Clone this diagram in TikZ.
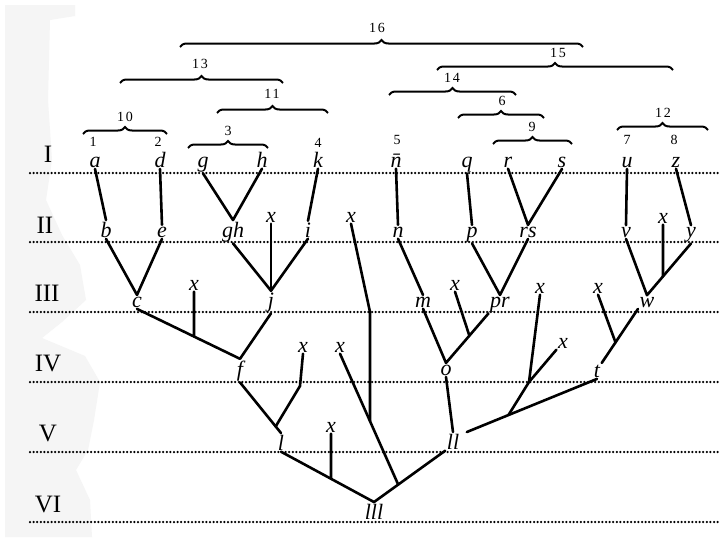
\documentclass[tikz,border=0pt]{standalone}
\usepackage{fontspec}
\setmainfont{Liberation Serif}
\newfontfamily\numfont[LetterSpace=14]{Liberation Serif}
\usetikzlibrary{decorations.pathreplacing,calc}
\begin{document}
\begin{tikzpicture}[x=1pt,y=-1pt,
  lab/.style={font=\fontsize{22}{22}\selectfont\itshape, inner sep=1.5pt, anchor=base},
  rom/.style={font=\fontsize{25}{25}\selectfont, inner sep=0pt, anchor=base},
  numl/.style={font=\fontsize{14}{14}\selectfont\numfont, inner sep=0pt, anchor=base},
  lnk/.style={line width=2.6pt, line cap=round, line join=round},
  brc/.style={decorate, decoration={brace, amplitude=7pt}, line width=2pt},
  dotline/.style={line width=2.5pt, dash pattern=on 0pt off 3.6pt, line cap=round}]
\useasboundingbox (0,0) rectangle (721,538);
\fill[white] (0,0) rectangle (721,538);
% scan shading at the left edge
\fill[gray!8] (5,5) -- (75,5) -- (75,16) -- (50,20) -- (48,100) -- (52,160) -- (46,200)
  -- (62,235) -- (80,265) -- (86,300) -- (62,322) -- (42,338) -- (85,356) -- (100,382)
  -- (94,420) -- (88,450) -- (76,470) -- (90,500) -- (92,537) -- (5,537) -- cycle;

% dotted level lines
\foreach \yy in {173,242,312,382,452,522} \draw[dotline] (30,\yy) -- (721,\yy);

% roman level labels
\node[rom] (R1) at (48,162) {I};
\node[rom] (R2) at (45,233) {II};
\node[rom] (R3) at (47,301) {III};
\node[rom] (R4) at (48,371) {IV};
\node[rom] (R5) at (48,441) {V};
\node[rom] (R6) at (48,512) {VI};

% row I
\node[lab] (a) at (95,167) {a};
\node[lab] (d) at (160,167) {d};
\node[lab] (g) at (203,167) {g};
\node[lab] (h) at (262,167) {h};
\node[lab] (k) at (318,167) {k};
\node[lab] (nb) at (396,167) {n̄};
\node[lab] (q) at (467,167) {q};
\node[lab] (r) at (508,167) {r};
\node[lab] (s) at (562,167) {s};
\node[lab] (u) at (627,167) {u};
\node[lab] (z) at (676,167) {z};
\node[numl] (n1) at (93,146) {1};
\node[numl] (n2) at (158,146) {2};
\node[numl] (n4) at (318,147) {4};
\node[numl] (n5) at (397,144) {5};
\node[numl] (n7) at (627,144) {7};
\node[numl] (n8) at (674,144) {8};

% braces and their labels
\draw[brc] (83,134) -- (167,134);  \node[numl] (L10) at (125,121) {10};
\draw[brc] (188,148) -- (268,148); \node[numl] (L3) at (228,135) {3};
\draw[brc] (217,113) -- (328,113); \node[numl] (L11) at (272,98) {11};
\draw[brc] (120,83) -- (283,83);   \node[numl] (L13) at (200,68) {13};
\draw[brc] (180,47) -- (583,47);   \node[numl] (L16) at (377,32) {16};
\draw[brc] (437,70) -- (673,70);   \node[numl] (L15) at (558,57) {15};
\draw[brc] (389,95) -- (516,95);   \node[numl] (L14) at (452,82) {14};
\draw[brc] (458,118) -- (544,118); \node[numl] (L6) at (502,105) {6};
\draw[brc] (493,144) -- (572,144); \node[numl] (L9) at (532,131) {9};
\draw[brc] (617,130) -- (708,130); \node[numl] (L12) at (663,117) {12};

% row II
\node[lab] (b) at (106,237) {b};
\node[lab] (e) at (162,237) {e};
\node[lab] (gh) at (233,237) {gh};
\node[lab] (i) at (308,237) {i};
\node[lab] (n) at (398,237) {n};
\node[lab] (p) at (472,237) {p};
\node[lab] (rs) at (528,237) {rs};
\node[lab] (v) at (626,237) {v};
\node[lab] (y) at (691,237) {y};
\node[lab] (xA) at (271,222) {x};
\node[lab] (xB) at (351,222) {x};
\node[lab] (xC) at (663,223) {x};

% row III
\node[lab] (c) at (137,307) {c};
\node[lab] (j) at (271,307) {j};
\node[lab] (m) at (423,307) {m};
\node[lab] (pr) at (500,307) {pr};
\node[lab] (w) at (647,307) {w};
\node[lab] (xD) at (194,290) {x};
\node[lab] (xE) at (455,290) {x};
\node[lab] (xF) at (540,293) {x};
\node[lab] (xG) at (598,293) {x};

% row IV
\node[lab] (f) at (240,376) {f};
\node[lab] (o) at (446,375) {o};
\node[lab] (t) at (597,377) {t};
\node[lab] (xH) at (303,352) {x};
\node[lab] (xI) at (340,352) {x};
\node[lab] (xJ) at (563,348) {x};

% row V and VI
\node[lab] (l) at (281,450) {l};
\node[lab] (ll) at (453,449) {ll};
\node[lab] (xK) at (331,432) {x};
\node[lab] (lll) at (374,519) {lll};

% helper coordinates
\coordinate (xCb) at (663,400);
\coordinate (xDb) at (194,400);
\coordinate (xKb) at (331,520);
\coordinate (bendB) at (370,312);
\coordinate (bendBb) at (370,520);
\coordinate (bendH) at (300,386);
\coordinate (jF) at (529,382);
\coordinate (jH) at ($(f.south)!0.87!(l.north)$);
\coordinate (jE) at ($(pr.south west)!0.45!(o.north)$);
\coordinate (jG) at ($(w.south west)!0.62!(t.north east)$);
\coordinate (jq) at ($(ll.south west)!0.66!(lll.north)$);
\coordinate (llR) at ($(ll.north east)+(6,0)$);
\coordinate (jt) at ($(llR)!0.32!(t.south)$);

% I -> II
\draw[lnk] (a.south) -- (b.north);
\draw[lnk] (d.south) -- (e.north);
\draw[lnk] (g.south) -- (gh.north) -- (h.south);
\draw[lnk] (k.south) -- (i.north);
\draw[lnk] (nb.south) -- (n.north);
\draw[lnk] (q.south) -- (p.north);
\draw[lnk] (r.south) -- (rs.north) -- (s.south);
\draw[lnk] (u.south) -- (v.north);
\draw[lnk] (z.south) -- (y.north);

% II -> III
\draw[lnk] (b.south) -- (c.north) -- (e.south);
\draw[lnk] (gh.south) -- (j.north) -- (i.south);
\draw[lnk] (xA.south) -- (j.north);
\draw[lnk] (n.south) -- (m.north);
\draw[lnk] (p.south) -- (pr.north) -- (rs.south);
\draw[lnk] (v.south) -- (w.north) -- (y.south);
\draw[lnk] (xC.south) -- (intersection of xC.south--xCb and y.south--w.north);

% III -> IV
\draw[lnk] (c.south) -- (f.north) -- (j.south);
\draw[lnk] (xD.south) -- (intersection of xD.south--xDb and c.south--f.north);
\draw[lnk] (m.south) -- (o.north) -- (pr.south west);
\draw[lnk] (xE.south) -- (jE);
\draw[lnk] (w.south west) -- (t.north east);
\draw[lnk] (xG.south) -- (jG);

% IV -> V
\draw[lnk] (f.south) -- (l.north);
\draw[lnk] (xH.south) -- (bendH) -- (jH);
\draw[lnk] (o.south) -- (ll.north);
\draw[lnk] (llR) -- (t.south);
\draw[lnk] (jt) -- (jF) -- (xF.south);
\draw[lnk] (jF) -- (xJ.south west);

% V -> VI
\draw[lnk] (l.south) -- (lll.north);
\draw[lnk] (xK.south) -- (intersection of xK.south--xKb and l.south--lll.north);
\draw[lnk] (ll.south west) -- (lll.north);
\draw[lnk] (xI.south) -- (jq);
\draw[lnk] (xB.south) -- (bendB) -- (intersection of bendB--bendBb and xI.south--jq);
\end{tikzpicture}
\end{document}
